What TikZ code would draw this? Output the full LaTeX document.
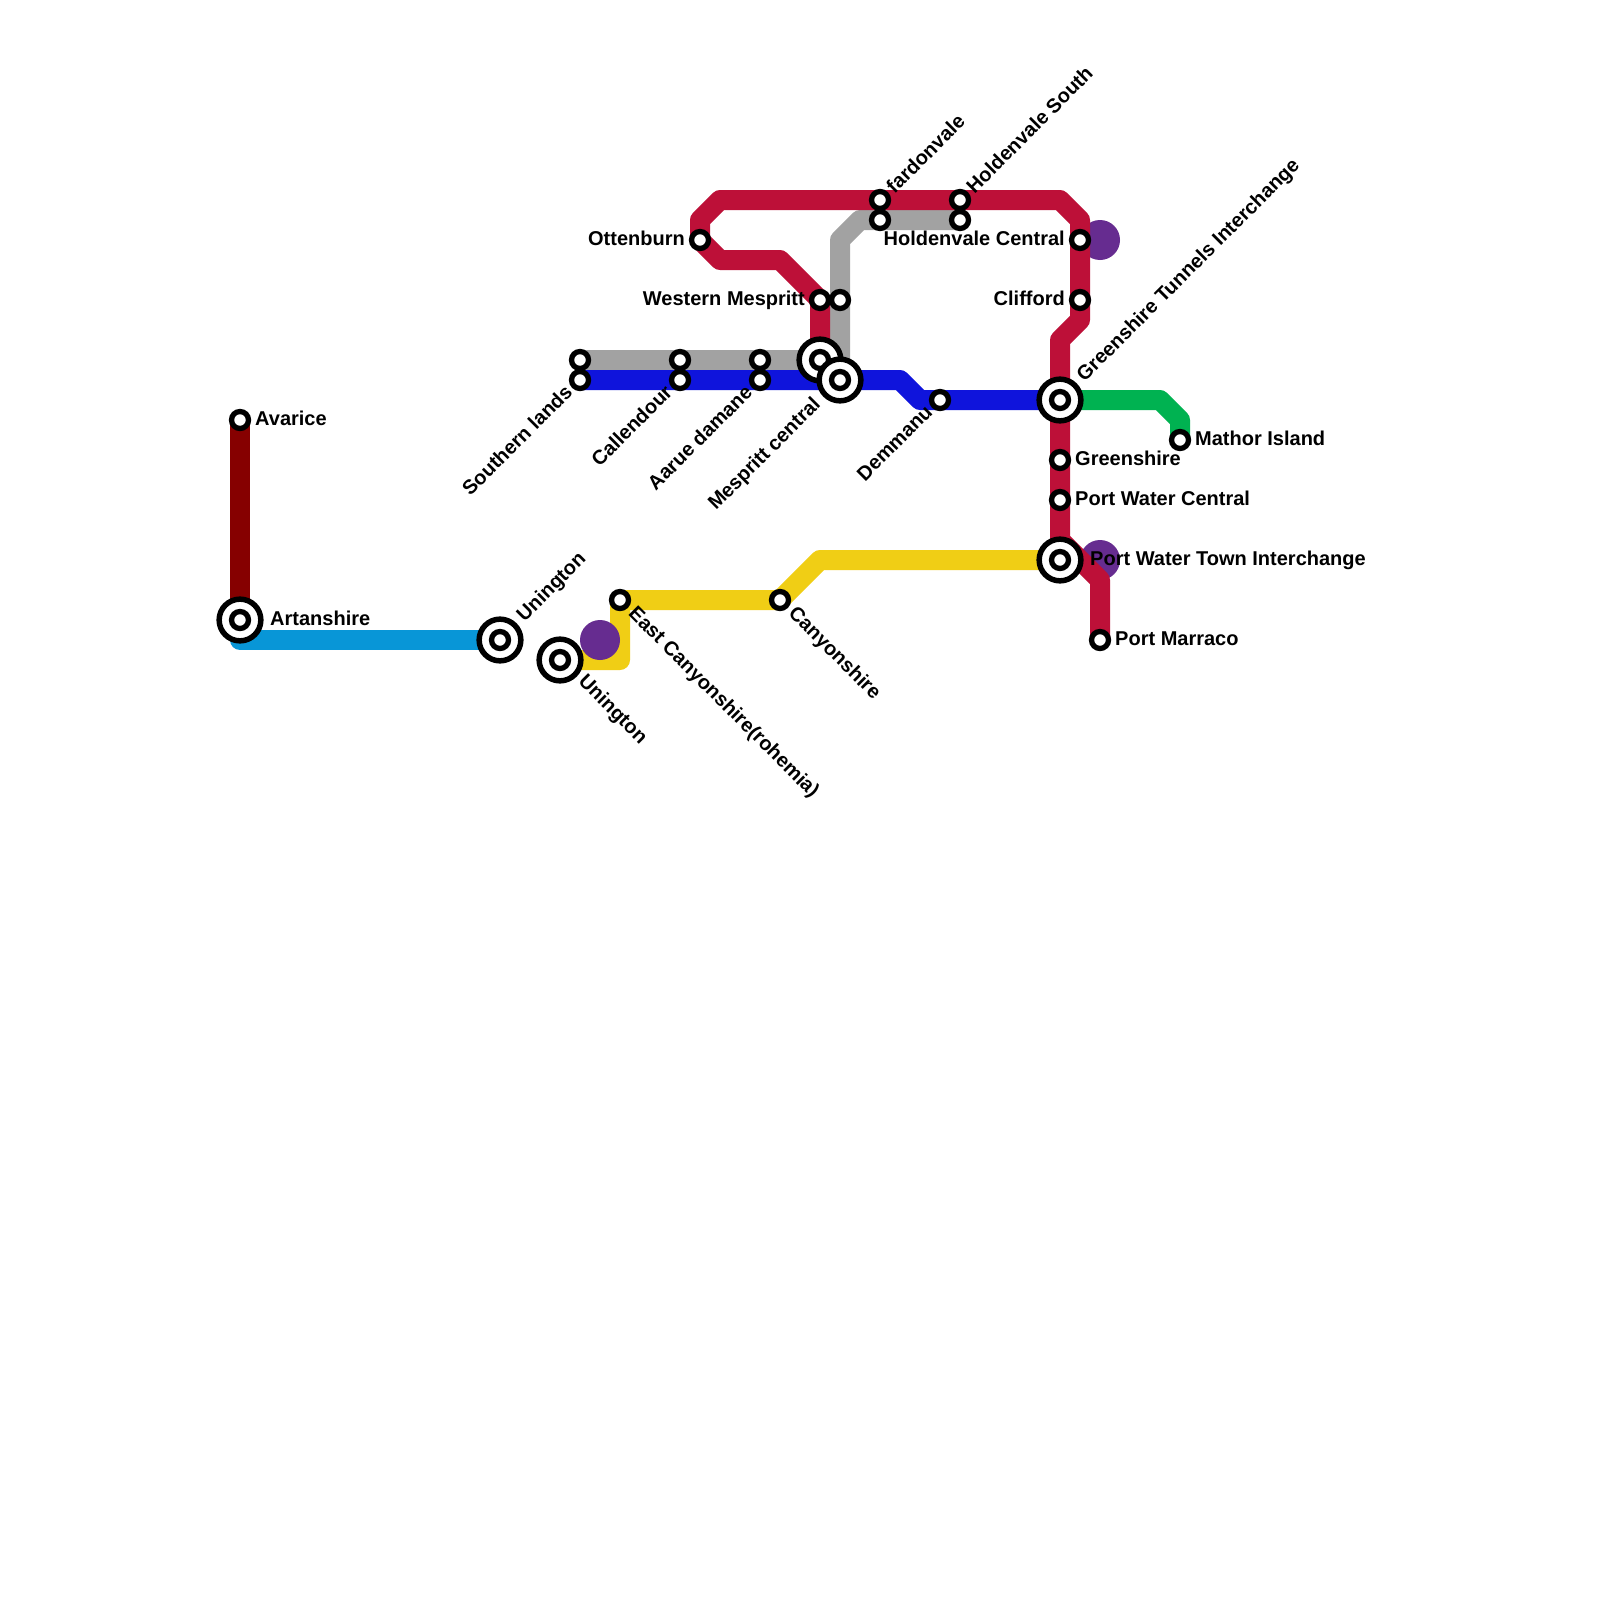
\documentclass[tikz,border=0pt]{standalone}
\usepackage{fontspec}
\setmainfont{Liberation Sans}
\usepackage{xcolor}
\usetikzlibrary{positioning,backgrounds}
\definecolor{maroonline}{HTML}{860000}
\definecolor{skyline}{HTML}{0896D7}
\definecolor{crimsonline}{HTML}{BD1038}
\definecolor{greyline}{HTML}{A2A2A2}
\definecolor{royalline}{HTML}{0F14DC}
\definecolor{yellowline}{HTML}{F0CE15}
\definecolor{greenline}{HTML}{00B251}
\definecolor{plum}{HTML}{662C90}

\begin{document}
\begin{tikzpicture}[
  x=1pt, y=-1pt,
  stn/.style={circle, draw=black, line width=5.3pt, fill=white, minimum size=17pt, inner sep=0pt, outer sep=0pt},
  hub/.style={circle, draw=black, line width=5.5pt, fill=white, minimum size=41.7pt, inner sep=0pt, outer sep=0pt,
              label={[stn]center:{}}},
  blob/.style={circle, fill=plum, minimum size=40pt, inner sep=0pt, outer sep=0pt},
  lbl/.style={font=\bfseries\fontsize{20}{22}\selectfont, inner sep=0pt, text=black, text height=15pt, text depth=5pt},
  lblne/.style={lbl, xshift=11pt, yshift=9pt, rotate=45, anchor=west},
  lblsw/.style={lbl, xshift=-10pt, yshift=-10pt, rotate=45, anchor=east},
  lblse/.style={lbl, xshift=11pt, yshift=-11pt, rotate=-45, anchor=west},
  hubne/.style={lbl, xshift=21pt, yshift=21pt, rotate=45, anchor=west},
  hubsw/.style={lbl, xshift=-22pt, yshift=-22pt, rotate=45, anchor=east},
  hubse/.style={lbl, xshift=21pt, yshift=-19pt, rotate=-45, anchor=west},
  metro/.style={line width=20pt, line join=round}
]
  \useasboundingbox (0,0) rectangle (1600,1600);

  \node[stn] (avarice) at (240,420) {};
  \node[hub] (artanshire) at (240,620) {};
  \node[hub] (uningtonn) at (500,640) {};
  \node[hub] (uningtons) at (560,660) {};
  \node[stn] (eastcanyon) at (620,600) {};
  \node[stn] (canyonshire) at (780,600) {};
  \node[stn] (southerng) at (580,360) {};
  \node[stn] (southernb) at (580,380) {};
  \node[stn] (callendourg) at (680,360) {};
  \node[stn] (callendourb) at (680,380) {};
  \node[stn] (aarueg) at (760,360) {};
  \node[stn] (aarueb) at (760,380) {};
  \node[stn] (ottenburn) at (700,240) {};
  \node[stn] (westernr) at (820,300) {};
  \node[stn] (westerng) at (840,300) {};
  \node[hub] (mesprittr) at (820,360) {};
  \node[hub] (mesprittb) at (840,380) {};
  \node[stn] (fardonr) at (880,200) {};
  \node[stn] (fardong) at (880,220) {};
  \node[stn] (holdensr) at (960,200) {};
  \node[stn] (holdensg) at (960,220) {};
  \node[stn] (demmanu) at (940,400) {};
  \node[stn] (holdenc) at (1080,240) {};
  \node[stn] (clifford) at (1080,300) {};
  \node[hub] (tunnels) at (1060,400) {};
  \node[stn] (greenshire) at (1060,460) {};
  \node[stn] (portcentral) at (1060,500) {};
  \node[hub] (porttown) at (1060,560) {};
  \node[stn] (marraco) at (1100,640) {};
  \node[stn] (mathor) at (1180,440) {};

  \node[lbl,right=15pt of avarice.center] (avaricet) {Avarice};
  \node[lbl,right=30pt of artanshire.center] (artanshiret) {Artanshire};
  \node[lbl,right=15pt of greenshire.center] (greenshiret) {Greenshire};
  \node[lbl,right=15pt of portcentral.center] (portcentralt) {Port Water Central};
  \node[lbl,right=30pt of porttown.center] (porttownt) {Port Water Town Interchange};
  \node[lbl,right=15pt of marraco.center] (marracot) {Port Marraco};
  \node[lbl,right=15pt of mathor.center] (mathort) {Mathor Island};
  \node[lbl,left=15pt of ottenburn.center] (ottenburnt) {Ottenburn};
  \node[lbl,left=15pt of westernr.center] (westernt) {Western Mespritt};
  \node[lbl,left=15pt of holdenc.center] (holdenct) {Holdenvale Central};
  \node[lbl,left=15pt of clifford.center] (cliffordt) {Clifford};

  \node[hubne] (uningtonnt) at (uningtonn.center) {Unington};
  \node[lblne] (fardont) at (fardonr.center) {fardonvale};
  \node[lblne] (holdenst) at (holdensr.center) {Holdenvale South};
  \node[hubne] (tunnelst) at (tunnels.center) {Greenshire Tunnels Interchange};
  \node[lblsw] (southernt) at (southernb.center) {Southern lands};
  \node[lblsw] (callendourt) at (callendourb.center) {Callendour};
  \node[lblsw] (aaruet) at (aarueb.center) {Aarue damane};
  \node[hubsw] (mesprittt) at (mesprittb.center) {Mespritt central};
  \node[lblsw] (demmanut) at (demmanu.center) {Demmanu};
  \node[hubse] (uningtonst) at (uningtons.center) {Unington};
  \node[lblse] (eastcanyont) at (eastcanyon.center) {East Canyonshire(rohemia)};
  \node[lblse] (canyonshiret) at (canyonshire.center) {Canyonshire};

  \begin{scope}[on background layer]
    \fill[white] (0,0) rectangle (1600,1600);
    \draw[metro,draw=maroonline] (avarice.center) -- (artanshire.center);
    \draw[metro,draw=skyline] (artanshire.center) -- (240,640) -- (uningtonn.center);
    \draw[metro,draw=yellowline] (uningtons.center) -- (620,660) -- (eastcanyon.center) -- (canyonshire.center) -- (820,560) -- (porttown.center);
    \node[blob] (blobsouth) at (600,640) {};
    \node[blob] (blobcentral) at (1100,240) {};
    \node[blob] (blobport) at (1100,560) {};
    \draw[metro,draw=greyline] (southerng.center) -- (mesprittr.center);
    \draw[metro,draw=greyline] (mesprittb.center) -- (westerng.center) -- (840,240) -- (860,220) -- (holdensg.center);
    \draw[metro,draw=royalline] (southernb.center) -- (900,380) -- (920,400) -- (tunnels.center);
    \draw[metro,draw=greenline] (tunnels.center) -- (1160,400) -- (1180,420) -- (mathor.center);
    \draw[metro,draw=crimsonline] (mesprittr.center) -- (westernr.center) -- (780,260) -- (720,260) -- (ottenburn.center)
      -- (700,220) -- (720,200) -- (1060,200) -- (1080,220) -- (holdenc.center) -- (clifford.center) -- (1080,320) -- (1060,340)
      -- (tunnels.center) -- (greenshire.center) -- (portcentral.center) -- (1060,540) -- (1100,580) -- (marraco.center);
    \draw[metro,draw=crimsonline] (portcentral.center) -- (porttown.center);
  \end{scope}
\end{tikzpicture}
\end{document}
